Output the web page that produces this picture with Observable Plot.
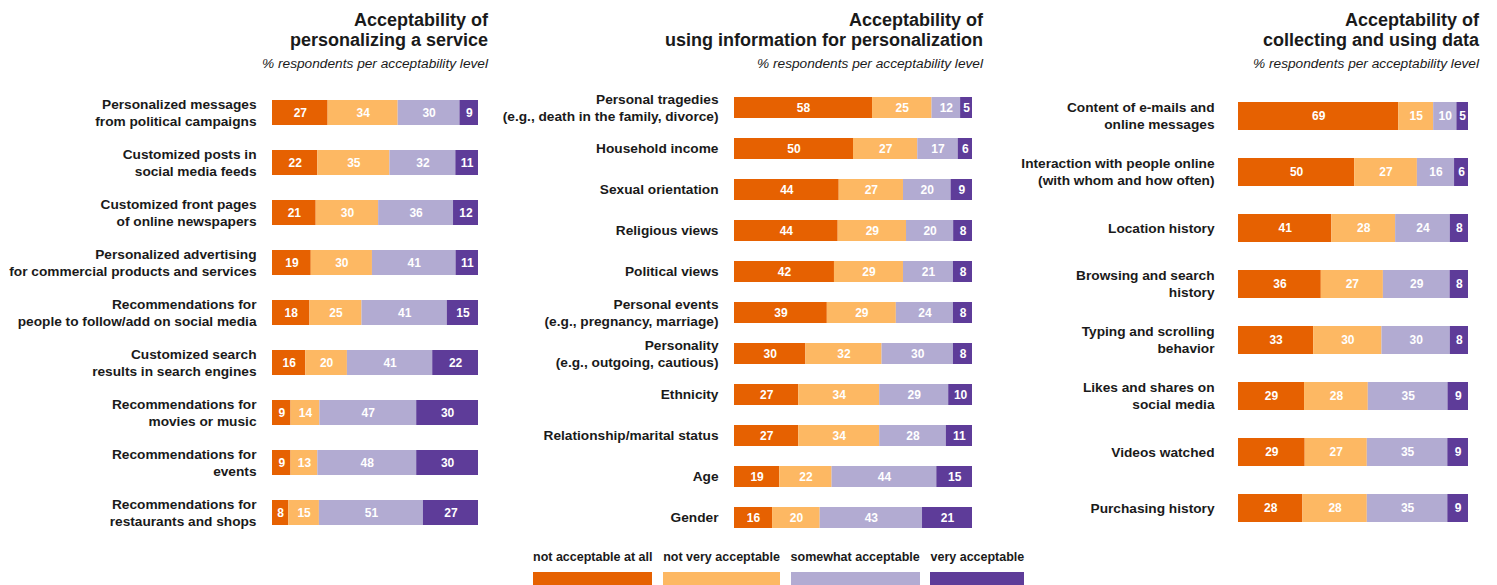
<!DOCTYPE html>
<html>
<head>
<meta charset="utf-8">
<script src="https://cdn.jsdelivr.net/npm/d3@7"></script>
<script src="https://cdn.jsdelivr.net/npm/@observablehq/plot@0.6"></script>
<style>
  html, body { margin: 0; padding: 0; background: #fff; }
  body { width: 1497px; height: 585px; overflow: hidden; position: relative;
         font-family: "Liberation Sans", Arial, Helvetica, sans-serif; color: #1a1a1a; }
  .panel { position: absolute; top: 0; }
  .title { position: absolute; text-align: right; font-weight: bold; font-size: 18px; line-height: 20px; white-space: nowrap; }
  .subtitle { position: absolute; text-align: right; font-style: italic; font-size: 13.7px; line-height: 16px; white-space: nowrap; }
  #legend { position: absolute; left: 533px; top: 550px; display: flex; gap: 10.7px; }
  #legend .item { font-weight: bold; font-size: 12.5px; line-height: 14px; white-space: nowrap; }
  #legend .sw { height: 18px; margin-top: 8px; }
</style>
</head>
<body>
<script>
// ---------- data ----------
const levels = ["not acceptable at all", "not very acceptable", "somewhat acceptable", "very acceptable"];
const levelColors = ["#e66101", "#fdb863", "#b2abd2", "#5e3c99"];

const titles1 = ["Acceptability of", "personalizing a service"];
const categories1 = [
  "Personalized messages\nfrom political campaigns",
  "Customized posts in\nsocial media feeds",
  "Customized front pages\nof online newspapers",
  "Personalized advertising\nfor commercial products and services",
  "Recommendations for\npeople to follow/add on social media",
  "Customized search\nresults in search engines",
  "Recommendations for\nmovies or music",
  "Recommendations for\nevents",
  "Recommendations for\nrestaurants and shops"
];
const notAtAll1 = [27, 22, 21, 19, 18, 16, 9, 9, 8];
const notVery1  = [34, 35, 30, 30, 25, 20, 14, 13, 15];
const somewhat1 = [30, 32, 36, 41, 41, 41, 47, 48, 51];
const very1     = [9, 11, 12, 11, 15, 22, 30, 30, 27];

const titles2 = ["Acceptability of", "using information for personalization"];
const categories2 = [
  "Personal tragedies\n(e.g., death in the family, divorce)",
  "Household income",
  "Sexual orientation",
  "Religious views",
  "Political views",
  "Personal events\n(e.g., pregnancy, marriage)",
  "Personality\n(e.g., outgoing, cautious)",
  "Ethnicity",
  "Relationship/marital status",
  "Age",
  "Gender"
];
const notAtAll2 = [58, 50, 44, 44, 42, 39, 30, 27, 27, 19, 16];
const notVery2  = [25, 27, 27, 29, 29, 29, 32, 34, 34, 22, 20];
const somewhat2 = [12, 17, 20, 20, 21, 24, 30, 29, 28, 44, 43];
const very2     = [5, 6, 9, 8, 8, 8, 8, 10, 11, 15, 21];

const titles3 = ["Acceptability of", "collecting and using data"];
const categories3 = [
  "Content of e-mails and\nonline messages",
  "Interaction with people online\n(with whom and how often)",
  "Location history",
  "Browsing and search\nhistory",
  "Typing and scrolling\nbehavior",
  "Likes and shares on\nsocial media",
  "Videos watched",
  "Purchasing history"
];
const notAtAll3 = [69, 50, 41, 36, 33, 29, 29, 28];
const notVery3  = [15, 27, 28, 27, 30, 28, 27, 28];
const somewhat3 = [10, 16, 24, 29, 30, 35, 35, 35];
const very3     = [5, 6, 8, 8, 8, 9, 9, 9];

const subtitle = "% respondents per acceptability level";

// ---------- helpers ----------
function rows(cats, series) {
  const out = [];
  cats.forEach((c, i) => series.forEach((s, j) => out.push({cat: c, level: levels[j], value: s[i]})));
  return out;
}
function bandRange(c0, cN, n, p) {
  const step = (cN - c0) / (n - 1);
  return [c0 - step * (1 + p) / 2, cN + step * (1 + p) / 2];
}

const panels = [
  {cats: categories1, series: [notAtAll1, notVery1, somewhat1, very1], titles: titles1,
   left: 0, width: 495, mL: 272, mR: 17, pad: 16, c0: 109.3, cN: 514.7, titleRight: 488},
  {cats: categories2, series: [notAtAll2, notVery2, somewhat2, very2], titles: titles2,
   left: 495, width: 500, mL: 239, mR: 23, pad: 16, c0: 104, cN: 520.3, titleRight: 983},
  {cats: categories3, series: [notAtAll3, notVery3, somewhat3, very3], titles: titles3,
   left: 995, width: 502, mL: 243, mR: 29, pad: 24, c0: 113.2, cN: 511.2, titleRight: 1479}
];

for (const P of panels) {
  const data = rows(P.cats, P.series);
  const chart = Plot.plot({
    width: P.width,
    height: 585,
    marginLeft: P.mL,
    marginRight: P.mR,
    style: {fontFamily: '"Liberation Sans", Arial, Helvetica, sans-serif', background: "transparent"},
    x: {domain: [0, 1], axis: null},
    y: {domain: P.cats, range: bandRange(P.c0, P.cN, P.cats.length, 0.5), padding: 0.5, label: null},
    color: {domain: levels, range: levelColors},
    marks: [
      Plot.barX(data, Plot.stackX({x: "value", y: "cat", fill: "level", order: null, offset: "normalize"})),
      Plot.text(data, Plot.stackX({x: "value", y: "cat", z: "level", order: null, offset: "normalize",
        text: d => String(d.value), fill: "white", fontWeight: "bold", fontSize: 12})),
      Plot.axisY({tickSize: 0, tickPadding: P.pad, fontSize: 13.7, fontWeight: "bold",
        fill: "#1a1a1a", lineHeight: 1.24, dy: -1, label: null})
    ]
  });
  const wrap = document.createElement("div");
  wrap.className = "panel";
  wrap.style.left = P.left + "px";
  wrap.appendChild(chart);
  document.body.appendChild(wrap);

  const t = document.createElement("div");
  t.className = "title";
  t.style.right = (1497 - P.titleRight) + "px";
  t.style.top = "10px";
  t.innerHTML = P.titles.join("<br>");
  document.body.appendChild(t);

  const s = document.createElement("div");
  s.className = "subtitle";
  s.style.right = (1497 - P.titleRight) + "px";
  s.style.top = "56px";
  s.textContent = subtitle;
  document.body.appendChild(s);
}

// ---------- legend ----------
const legend = document.createElement("div");
legend.id = "legend";
levels.forEach((l, i) => {
  const item = document.createElement("div");
  item.className = "item";
  item.textContent = l;
  const sw = document.createElement("div");
  sw.className = "sw";
  sw.style.background = levelColors[i];
  item.appendChild(sw);
  legend.appendChild(item);
});
document.body.appendChild(legend);
</script>
</body>
</html>
